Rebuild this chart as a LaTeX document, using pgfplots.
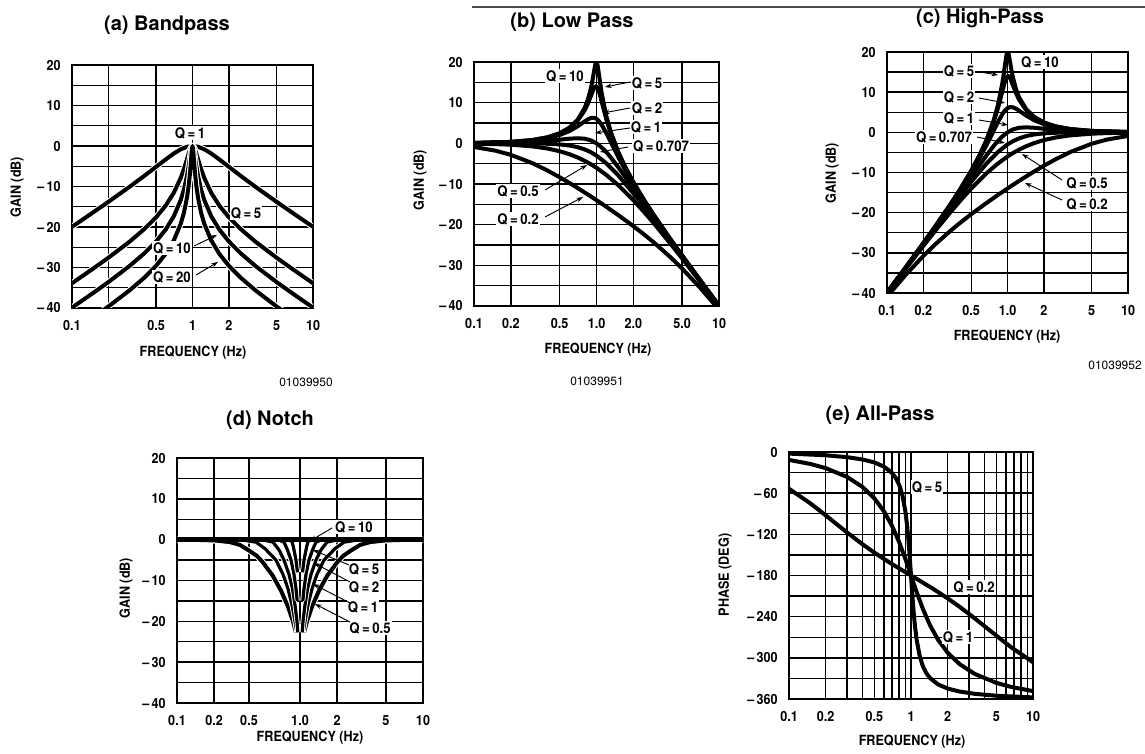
\documentclass[border=0pt]{standalone}
\usepackage{fontspec}
\setmainfont{TeX Gyre Heros}
\newfontfamily\cnd[FakeStretch=0.9]{TeX Gyre Heros}
\usepackage{pgfplots}
\pgfplotsset{compat=1.18}
\usetikzlibrary{arrows.meta}

\newcommand\tfont{\cnd\bfseries\fontsize{10.5}{12}\selectfont}
\newcommand\qfont{\cnd\bfseries\fontsize{11}{12}\selectfont}
\newcommand\ttl{\bfseries\fontsize{15}{17}\selectfont}
\newcommand\codefont{\fontsize{9}{10}\selectfont}

\pgfplotsset{
  every axis/.append style={
    scale only axis, xmode=log, xmin=0.1, xmax=10,
    axis line style={line width=1.4pt},
    grid style={black, line width=1.1pt},
    major grid style={black, line width=1.1pt},
    minor grid style={black, line width=1.1pt},
    major tick length=0pt, minor tick length=0pt,
    xmajorgrids=true, ymajorgrids=true, yminorgrids=true,
    tick label style={font=\tfont},
    xtick={0.1,0.2,0.5,1,2,5,10},
    yticklabel style={xshift=-5pt},
    xticklabel style={yshift=-6pt},
  },
}
\tikzset{
  crv/.style={black, line width=3pt, line join=round},
  cas/.style={black, line width=3pt, line join=round, preaction={draw=white, line width=4.6pt}},
  cas2/.style={black, line width=2.4pt, line join=round, preaction={draw=white, line width=3.8pt}},
  qlab/.style={font=\qfont, fill=white, inner sep=0.8pt},
  arr/.style={line width=0.7pt, -{Stealth[length=5pt,width=3.5pt]}},
}

\begin{document}
\begin{tikzpicture}[x=0.75pt,y=0.75pt]
\useasboundingbox (0,0) rectangle (1145,753);

% ---------------- (a) Bandpass
\begin{axis}[at={(54pt,333.75pt)}, anchor=south west,
  width=180.75pt, height=182.25pt,
  ymin=-40, ymax=20, ytick={-40,-30,-20,-10,0,10,20},
  minor ytick={-35,-25,-15,-5,5,15},
  yticklabels={–\,40,–\,30,–\,20,–\,10,0,10,20},
  xticklabels={0.1,,0.5,1,2,5,10}]
\addplot[cas] coordinates {(0.1,-19.96) (0.15,-16.38) (0.2,-13.81) (0.3,-10.09) (0.4,-7.33) (0.5,-5.12) (0.6,-3.30) (0.7,-1.85) (0.8,-0.80) (0.9,-0.19) (1,0) (1.1111,-0.19) (1.25,-0.80) (1.4286,-1.85) (1.6667,-3.30) (2,-5.12) (2.5,-7.33) (3.3333,-10.09) (5,-13.81) (6.6667,-16.38) (10,-19.96)};
\addplot[cas] coordinates {(0.1,-33.89) (0.15,-30.26) (0.2,-27.61) (0.3,-23.64) (0.4,-20.46) (0.5,-17.58) (0.6,-14.69) (0.7,-11.54) (0.8,-7.83) (0.85,-5.64) (0.9,-3.25) (0.93,-1.84) (0.95,-1.02) (0.97,-0.39) (1,0) (1.0309,-0.39) (1.0526,-1.02) (1.0753,-1.84) (1.1111,-3.25) (1.1765,-5.64) (1.25,-7.83) (1.4286,-11.54) (1.6667,-14.69) (2,-17.58) (2.5,-20.46) (3.3333,-23.64) (5,-27.61) (6.6667,-30.26) (10,-33.89)};
\addplot[cas] coordinates {(0.1,-39.91) (0.15,-36.28) (0.2,-33.63) (0.3,-29.64) (0.4,-26.45) (0.5,-23.54) (0.6,-20.60) (0.7,-17.33) (0.8,-13.27) (0.85,-10.67) (0.9,-7.37) (0.93,-4.93) (0.95,-3.12) (0.97,-1.37) (0.98,-0.66) (0.99,-0.17) (1,0) (1.0101,-0.17) (1.0204,-0.66) (1.0309,-1.37) (1.0526,-3.12) (1.0753,-4.93) (1.1111,-7.37) (1.1765,-10.67) (1.25,-13.27) (1.4286,-17.33) (1.6667,-20.60) (2,-23.54) (2.5,-26.45) (3.3333,-29.64) (5,-33.63) (6.6667,-36.28) (10,-39.91)};
\addplot[cas] coordinates {(0.15,-42.30) (0.2,-39.65) (0.3,-35.66) (0.4,-32.47) (0.5,-29.55) (0.6,-26.59) (0.7,-23.29) (0.8,-19.14) (0.85,-16.40) (0.9,-12.75) (0.93,-9.75) (0.95,-7.17) (0.97,-3.95) (0.98,-2.18) (0.99,-0.65) (1,0) (1.0101,-0.65) (1.0204,-2.18) (1.0309,-3.95) (1.0526,-7.17) (1.0753,-9.75) (1.1111,-12.75) (1.1765,-16.40) (1.25,-19.14) (1.4286,-23.29) (1.6667,-26.59) (2,-29.55) (2.5,-32.47) (3.3333,-35.66) (5,-39.65) (6.6667,-42.30)};
\end{axis}

% ---------------- (b) Low Pass
\begin{axis}[at={(355.5pt,335.25pt)}, anchor=south west,
  width=183.75pt, height=183pt,
  ymin=-40, ymax=20, ytick={-40,-30,-20,-10,0,10,20},
  minor ytick={-35,-25,-15,-5,5,15},
  yticklabels={–\,40,–\,30,–\,20,–\,10,0,10,20},
  xticklabels={0.1,0.2,0.5,1.0,2.0,5.0,10}]
\addplot[crv] coordinates {(0.1,-0.90) (0.15,-1.81) (0.2,-2.84) (0.3,-4.88) (0.4,-6.73) (0.5,-8.33) (0.6,-9.74) (0.7,-10.97) (0.8,-12.08) (0.9,-13.07) (1,-13.98) (1.2,-15.59) (1.5,-17.62) (2,-20.37) (2.5,-22.64) (3,-24.61) (4,-27.96) (5,-30.80) (7,-35.48) (10,-40.90)};
\addplot[crv] coordinates {(0.1,-0.09) (0.15,-0.19) (0.2,-0.34) (0.3,-0.75) (0.4,-1.29) (0.5,-1.94) (0.6,-2.67) (0.7,-3.46) (0.8,-4.30) (0.9,-5.15) (1,-6.02) (1.2,-7.75) (1.5,-10.24) (2,-13.98) (2.5,-17.21) (3,-20.00) (4,-24.61) (5,-28.30) (7,-33.98) (10,-40.09)};
\addplot[crv] coordinates {(0.1,0) (0.2,-0.01) (0.3,-0.04) (0.4,-0.11) (0.5,-0.26) (0.6,-0.53) (0.7,-0.93) (0.8,-1.49) (0.9,-2.19) (1,-3.01) (1.2,-4.88) (1.5,-7.83) (2,-12.30) (2.5,-16.03) (3,-19.14) (4,-24.10) (5,-27.97) (7,-33.81) (10,-40.00)};
\addplot[crv] coordinates {(0.1,0.04) (0.2,0.17) (0.3,0.37) (0.4,0.63) (0.5,0.90) (0.6,1.14) (0.7,1.25) (0.8,1.14) (0.9,0.73) (1,0) (1.1,-0.98) (1.2,-2.13) (1.3,-3.36) (1.5,-5.81) (1.7,-8.10) (2,-11.14) (2.5,-15.29) (3,-18.63) (4,-23.82) (5,-27.79) (7,-33.72) (10,-39.96)};
\addplot[crv] coordinates {(0.1,0.08) (0.2,0.31) (0.3,0.70) (0.4,1.27) (0.5,2.04) (0.6,3.01) (0.7,4.17) (0.8,5.38) (0.85,5.89) (0.9,6.22) (0.95,6.29) (1,6.02) (1.05,5.43) (1.1,4.60) (1.2,2.57) (1.3,0.46) (1.5,-3.27) (1.7,-6.33) (2,-10.00) (2.5,-14.64) (3,-18.21) (4,-23.60) (5,-27.65) (7,-33.65) (10,-39.92)};
\addplot[crv] coordinates {(0.1,0.09) (0.2,0.35) (0.3,0.80) (0.4,1.48) (0.5,2.42) (0.6,3.73) (0.7,5.53) (0.8,8.09) (0.85,9.75) (0.9,11.64) (0.93,12.77) (0.95,13.41) (0.97,13.86) (0.98,13.98) (0.99,14.02) (1,13.98) (1.02,13.64) (1.05,12.63) (1.1,10.34) (1.2,6.00) (1.3,2.65) (1.5,-2.18) (1.7,-5.67) (2,-9.62) (2.5,-14.44) (3,-18.09) (4,-23.53) (5,-27.61) (7,-33.63) (10,-39.91)};
\addplot[crv] coordinates {(0.1,0.09) (0.2,0.35) (0.3,0.81) (0.4,1.50) (0.5,2.48) (0.6,3.84) (0.7,5.77) (0.8,8.66) (0.85,10.75) (0.9,13.55) (0.93,15.70) (0.95,17.32) (0.97,18.89) (0.98,19.52) (0.99,19.92) (1,20.00) (1.01,19.74) (1.02,19.20) (1.03,18.44) (1.05,16.67) (1.1,12.50) (1.2,6.82) (1.3,3.07) (1.5,-2.00) (1.7,-5.56) (2,-9.56) (2.5,-14.41) (3,-18.07) (4,-23.52) (5,-27.61) (7,-33.63) (10,-39.91)};
\end{axis}

% ---------------- (c) High-Pass
\begin{axis}[at={(665.25pt,345pt)}, anchor=south west,
  width=180.75pt, height=180.75pt,
  ymin=-40, ymax=20, ytick={-40,-30,-20,-10,0,10,20},
  minor ytick={-35,-25,-15,-5,5,15},
  yticklabels={–\,40,–\,30,–\,20,–\,10,0,10,20},
  xticklabels={0.1,0.2,0.5,1.0,2,5,10}]
\addplot[crv] coordinates {(0.1,-40.90) (0.1429,-35.48) (0.2,-30.80) (0.25,-27.96) (0.3333,-24.61) (0.4,-22.64) (0.5,-20.37) (0.6667,-17.62) (0.8333,-15.59) (1,-13.98) (1.1111,-13.07) (1.25,-12.08) (1.4286,-10.97) (1.6667,-9.74) (2,-8.33) (2.5,-6.73) (3.3333,-4.88) (5,-2.84) (6.6667,-1.81) (10,-0.90)};
\addplot[crv] coordinates {(0.1,-40.09) (0.1429,-33.98) (0.2,-28.30) (0.25,-24.61) (0.3333,-20.00) (0.4,-17.21) (0.5,-13.98) (0.6667,-10.24) (0.8333,-7.75) (1,-6.02) (1.1111,-5.15) (1.25,-4.30) (1.4286,-3.46) (1.6667,-2.67) (2,-1.94) (2.5,-1.29) (3.3333,-0.75) (5,-0.34) (6.6667,-0.19) (10,-0.09)};
\addplot[crv] coordinates {(0.1,-40.00) (0.1429,-33.81) (0.2,-27.97) (0.25,-24.10) (0.3333,-19.14) (0.4,-16.03) (0.5,-12.30) (0.6667,-7.83) (0.8333,-4.88) (1,-3.01) (1.1111,-2.19) (1.25,-1.49) (1.4286,-0.93) (1.6667,-0.53) (2,-0.26) (2.5,-0.11) (3.3333,-0.04) (5,-0.01) (10,0)};
\addplot[crv] coordinates {(0.1,-39.96) (0.1429,-33.72) (0.2,-27.79) (0.25,-23.82) (0.3333,-18.63) (0.4,-15.29) (0.5,-11.14) (0.5882,-8.10) (0.6667,-5.81) (0.7692,-3.36) (0.8333,-2.13) (0.9091,-0.98) (1,0) (1.1111,0.73) (1.25,1.14) (1.4286,1.25) (1.6667,1.14) (2,0.90) (2.5,0.63) (3.3333,0.37) (5,0.17) (10,0.04)};
\addplot[crv] coordinates {(0.1,-39.92) (0.1429,-33.65) (0.2,-27.65) (0.25,-23.60) (0.3333,-18.21) (0.4,-14.64) (0.5,-10.00) (0.5882,-6.33) (0.6667,-3.27) (0.7692,0.46) (0.8333,2.57) (0.9091,4.60) (0.9524,5.43) (1,6.02) (1.0526,6.29) (1.1111,6.22) (1.1765,5.89) (1.25,5.38) (1.4286,4.17) (1.6667,3.01) (2,2.04) (2.5,1.27) (3.3333,0.70) (5,0.31) (10,0.08)};
\addplot[crv] coordinates {(0.1,-39.91) (0.1429,-33.63) (0.2,-27.61) (0.25,-23.53) (0.3333,-18.09) (0.4,-14.44) (0.5,-9.62) (0.5882,-5.67) (0.6667,-2.18) (0.7692,2.65) (0.8333,6.00) (0.9091,10.34) (0.9524,12.63) (0.9804,13.64) (1,13.98) (1.0101,14.02) (1.0204,13.98) (1.0309,13.86) (1.0526,13.41) (1.0753,12.77) (1.1111,11.64) (1.1765,9.75) (1.25,8.09) (1.4286,5.53) (1.6667,3.73) (2,2.42) (2.5,1.48) (3.3333,0.80) (5,0.35) (10,0.09)};
\addplot[crv] coordinates {(0.1,-39.91) (0.1429,-33.63) (0.2,-27.61) (0.25,-23.52) (0.3333,-18.07) (0.4,-14.41) (0.5,-9.56) (0.5882,-5.56) (0.6667,-2.00) (0.7692,3.07) (0.8333,6.82) (0.9091,12.50) (0.9524,16.67) (0.9709,18.44) (0.9804,19.20) (0.9901,19.74) (1,20.00) (1.0101,19.92) (1.0204,19.52) (1.0309,18.89) (1.0526,17.32) (1.0753,15.70) (1.1111,13.55) (1.1765,10.75) (1.25,8.66) (1.4286,5.77) (1.6667,3.84) (2,2.48) (2.5,1.50) (3.3333,0.81) (5,0.35) (10,0.09)};
\end{axis}

% ---------------- (d) Notch
\begin{axis}[at={(132.75pt,37.5pt)}, anchor=south west,
  width=184.5pt, height=183.75pt,
  ymin=-40, ymax=20, ytick={-40,-30,-20,-10,0,10,20},
  minor ytick={-35,-25,-15,-5,5,15},
  yticklabels={–\,40,–\,30,–\,20,–\,10,0,10,20},
  xtick={0.1,0.2,0.385,1,2,5,10},
  xticklabels={0.1,0.2,0.5,1.0,2,5,10}]
% Q = 0.5
\addplot[cas] coordinates {(0.1,0) (0.1276,0) (0.2036,-0.2) (0.2697,-0.6) (0.3252,-1.3) (0.3871,-2.7) (0.4471,-4.0) (0.4973,-5.5) (0.5998,-8.8) (0.7008,-12.5) (0.7943,-16.2) (0.8724,-19.8) (0.9278,-22.7)};
\addplot[cas] coordinates {(1.078,-22.7) (1.146,-19.8) (1.259,-16.2) (1.427,-12.5) (1.667,-8.8) (2.011,-5.5) (2.237,-4.0) (2.583,-2.7) (3.075,-1.3) (3.708,-0.6) (4.911,-0.2) (7.837,0) (10,0)};
% Q = 1
\addplot[cas2] coordinates {(0.3252,0) (0.4387,-0.6) (0.5192,-2.2) (0.6381,-5.0) (0.7274,-8.5) (0.7989,-12.0) (0.8610,-16.0) (0.9107,-20.0) (0.9418,-22.7)};
\addplot[cas2] coordinates {(1.062,-22.7) (1.098,-20.0) (1.161,-16.0) (1.252,-12.0) (1.375,-8.5) (1.567,-5.0) (1.926,-2.2) (2.279,-0.6) (3.075,0)};
% Q = 2
\addplot[cas2] coordinates {(0.4911,0) (0.6032,-0.6) (0.6750,-2.5) (0.7413,-5.0) (0.8139,-8.5) (0.8690,-12.0) (0.9107,-16.0) (0.9454,-20.0) (0.9596,-22.7)};
\addplot[cas2] coordinates {(1.042,-22.7) (1.058,-20.0) (1.098,-16.0) (1.151,-12.0) (1.229,-8.5) (1.349,-5.0) (1.481,-2.5) (1.658,-0.6) (2.036,0)};
% Q = 5
\addplot[cas2] coordinates {(0.6626,0) (0.7413,-0.6) (0.7914,-2.5) (0.8450,-5.0) (0.8937,-8.5) (0.9278,-12.0) (0.9489,-15.0)};
\addplot[cas2] coordinates {(1.054,-15.0) (1.078,-12.0) (1.119,-8.5) (1.183,-5.0) (1.264,-2.5) (1.349,-0.6) (1.509,0)};
% Q = 10
\addplot[cas2] coordinates {(0.8139,0) (0.8659,-0.6) (0.8937,-2.5) (0.9278,-5.0) (0.9543,-8.0)};
\addplot[cas2] coordinates {(1.048,-8.0) (1.078,-5.0) (1.119,-2.5) (1.155,-0.6) (1.229,0)};
% 0 dB asymptote shared by all curves
\addplot[crv, line width=3.8pt] coordinates {(0.1,0) (10,0)};
\end{axis}

% ---------------- (e) All-Pass
\begin{axis}[at={(591.75pt,40.5pt)}, anchor=south west,
  width=183pt, height=185.25pt,
  ymin=-360, ymax=0, ytick={-360,-300,-240,-180,-120,-60,0},
  minor ytick={-330,-270,-210,-150,-90,-30},
  yticklabels={–\,360,–\,300,–\,240,–\,180,–\,120,–\,60,0},
  minor xtick={0.3,0.4,0.6,0.7,0.8,0.9,3,4,6,7,8,9}, xminorgrids=true,
  xticklabels={0.1,0.2,0.5,1,2,5,10}]
\addplot[crv] coordinates {(0.1,-53.60) (0.15,-75.00) (0.2,-92.38) (0.3,-117.50) (0.4,-134.43) (0.5,-146.60) (0.6,-155.92) (0.7,-163.42) (0.8,-169.71) (0.9,-175.16) (1,-180) (1.1111,-184.84) (1.25,-190.29) (1.4286,-196.58) (1.6667,-204.08) (2,-213.40) (2.5,-225.57) (3.3333,-242.50) (5,-267.62) (6.6667,-285.00) (10,-306.40)};
\addplot[crv] coordinates {(0.1,-11.54) (0.15,-17.45) (0.2,-23.54) (0.3,-36.50) (0.4,-50.91) (0.5,-67.38) (0.6,-86.31) (0.7,-107.84) (0.8,-131.53) (0.9,-156.16) (0.95,-168.28) (1,-180) (1.0526,-191.72) (1.1111,-203.84) (1.25,-228.47) (1.4286,-252.16) (1.6667,-273.69) (2,-292.62) (2.5,-309.09) (3.3333,-323.50) (5,-336.46) (6.6667,-342.55) (10,-348.46)};
\addplot[crv] coordinates {(0.1,-2.31) (0.2,-4.77) (0.3,-7.54) (0.4,-10.88) (0.5,-15.19) (0.6,-21.24) (0.7,-30.70) (0.75,-37.85) (0.8,-47.92) (0.85,-62.98) (0.9,-86.90) (0.93,-108.02) (0.95,-125.68) (0.97,-146.12) (0.99,-168.52) (1,-180) (1.0101,-191.48) (1.0309,-213.88) (1.0526,-234.32) (1.0753,-251.98) (1.1111,-273.10) (1.1765,-297.02) (1.25,-312.08) (1.3333,-322.15) (1.4286,-329.30) (1.6667,-338.76) (2,-344.81) (2.5,-349.12) (3.3333,-352.46) (5,-355.23) (10,-357.69)};
\end{axis}

% ---------------- titles and labels
\node[font=\ttl] at (167,753-25) {(a) Bandpass};
\node[font=\ttl] at (572,753-22) {(b) Low Pass};
\node[font=\ttl] at (980,753-18) {(c) High-Pass};
\node[font=\ttl] at (270,753-420) {(d) Notch};
\node[font=\ttl] at (880,753-415) {(e) All-Pass};

\node[font=\tfont] at (193,753-353) {FREQUENCY (Hz)};
\node[font=\tfont] at (598,753-350) {FREQUENCY (Hz)};
\node[font=\tfont] at (1007,753-337) {FREQUENCY (Hz)};
\node[font=\tfont] at (310,753-738) {FREQUENCY (Hz)};
\node[font=\tfont] at (912,753-742) {FREQUENCY (Hz)};

\node[font=\tfont, rotate=90] at (17,753-187) {GAIN (dB)};
\node[font=\tfont, rotate=90] at (420,753-180) {GAIN (dB)};
\node[font=\tfont, rotate=90] at (832,753-173) {GAIN (dB)};
\node[font=\tfont, rotate=90] at (126,753-588) {GAIN (dB)};
\node[font=\tfont, rotate=90] at (725,753-575) {PHASE (DEG)};

\node[font=\codefont] at (306,753-382) {01039950};
\node[font=\codefont] at (597,753-381) {01039951};
\node[font=\codefont] at (1115,753-365) {01039952};

\draw[line width=0.8pt, black!70] (472,753-7) -- (1145,753-7);

% (a) annotations
\node[qlab] at (190,753-133) {Q\,=\,1};
\node[qlab] at (246,753-213) {Q\,=\,5};
\node[qlab] at (172,753-248) {Q\,=\,10};
\node[qlab] at (172,753-277) {Q\,=\,20};
\draw[arr] (194,753-246) -- (217,753-235);
\draw[arr] (196,753-275) -- (218,753-262);

% (b) annotations
\node[qlab] at (565,753-76) {Q\,=\,10};
\node[qlab] at (647,753-83) {Q\,=\,5};
\node[qlab] at (647,753-108) {Q\,=\,2};
\node[qlab] at (646,753-127) {Q\,=\,1};
\node[qlab] at (661,753-146) {Q\,=\,0.707};
\node[qlab] at (518,753-191) {Q\,=\,0.5};
\node[qlab] at (518,753-219) {Q\,=\,0.2};
\draw[arr] (630,753-82) -- (605,753-87);
\draw[arr] (630,753-108) -- (603,753-113);
\draw[arr] (630,753-128) -- (595,753-133);
\draw[arr] (628,753-147) -- (600,753-152);
\draw[arr] (545,753-190) -- (587,753-165);
\draw[arr] (545,753-217) -- (583,753-197);

% (c) annotations
\node[qlab] at (959,753-71) {Q\,=\,5};
\node[qlab] at (1040,753-62) {Q\,=\,10};
\node[qlab] at (959,753-97) {Q\,=\,2};
\node[qlab] at (959,753-118) {Q\,=\,1};
\node[qlab] at (944,753-137) {Q\,=\,0.707};
\node[qlab] at (1087,753-183) {Q\,=\,0.5};
\node[qlab] at (1087,753-204) {Q\,=\,0.2};
\draw[arr] (980,753-72) -- (998,753-75);
\draw[arr] (979,753-98) -- (1005,753-103);
\draw[arr] (979,753-120) -- (1008,753-125);
\draw[arr] (977,753-137) -- (1005,753-143);
\draw[arr] (1062,753-180) -- (1022,753-154);
\draw[arr] (1062,753-200) -- (1025,753-183);

% (d) annotations
\node[qlab] at (354,753-527) {Q\,=\,10};
\node[qlab] at (364,753-569) {Q\,=\,5};
\node[qlab] at (364,753-587) {Q\,=\,2};
\node[qlab] at (363,753-607) {Q\,=\,1};
\node[qlab] at (370,753-628) {Q\,=\,0.5};
\draw[arr] (332,753-528) -- (310,753-541);
\draw[arr] (349,753-565) -- (313,753-550);
\draw[arr] (350,753-582) -- (314,753-563);
\draw[arr] (350,753-603) -- (313,753-584);
\draw[arr] (350,753-622) -- (315,753-604);

% (e) annotations
\node[qlab] at (927,753-487) {Q\,=\,5};
\node[qlab] at (974,753-587) {Q\,=\,0.2};
\node[qlab] at (958,753-637) {Q\,=\,1};
\end{tikzpicture}
\end{document}
